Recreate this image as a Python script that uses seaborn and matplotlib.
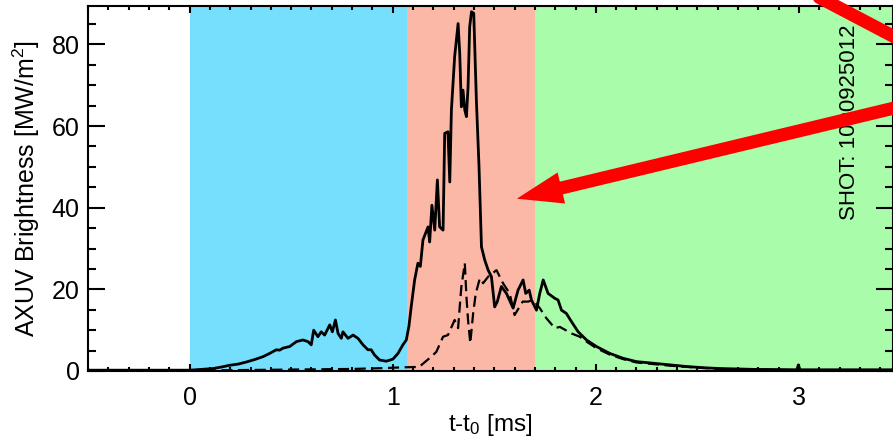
import matplotlib
matplotlib.use("Agg")
import matplotlib.pyplot as plt
import pandas as pd
import seaborn as sns
from matplotlib.ticker import MultipleLocator

# Datos (t-t0 en ms, brillo en MW/m2)
t_solid = [-0.50, -0.30, -0.10, 0.00, 0.06, 0.115, 0.16, 0.197, 0.24, 0.279, 0.32, 0.361,
           0.394, 0.427, 0.443, 0.460, 0.493, 0.526, 0.558, 0.583, 0.599, 0.611, 0.632,
           0.648, 0.665, 0.690, 0.703, 0.718, 0.731, 0.747, 0.755, 0.780, 0.805, 0.829,
           0.854, 0.878, 0.894, 0.911, 0.935, 0.968, 1.001, 1.026, 1.050, 1.067, 1.080,
           1.091, 1.108, 1.124, 1.136, 1.149, 1.174, 1.182, 1.193, 1.207, 1.220, 1.231,
           1.248, 1.256, 1.272, 1.281, 1.289, 1.305, 1.322, 1.330, 1.338, 1.346, 1.355,
           1.363, 1.371, 1.379, 1.388, 1.399, 1.412, 1.425, 1.437, 1.453, 1.470, 1.486,
           1.502, 1.515, 1.535, 1.560, 1.593, 1.617, 1.642, 1.655, 1.672, 1.683, 1.708,
           1.724, 1.741, 1.765, 1.798, 1.814, 1.831, 1.855, 1.880, 1.913, 1.954, 2.003,
           2.069, 2.135, 2.200, 2.282, 2.365, 2.447, 2.530, 2.611, 2.700, 2.775, 2.900,
           2.990, 2.997, 3.005, 3.100, 3.250, 3.460]
b_solid = [0.2, 0.2, 0.2, 0.2, 0.4, 0.6, 1.0, 1.4, 1.7, 2.2, 2.8, 3.5,
           4.3, 5.2, 5.1, 5.6, 6.0, 7.2, 7.6, 7.2, 6.4, 10.0, 8.4,
           9.6, 8.8, 11.3, 9.6, 12.5, 9.2, 8.0, 9.6, 8.0, 8.8, 8.0,
           6.4, 5.2, 5.2, 3.9, 2.7, 2.4, 2.9, 4.3, 6.4, 7.6, 11.0,
           15.7, 22.3, 26.4, 25.6, 32.1, 35.3, 31.6, 40.6, 34.5, 46.8, 35.3,
           34.5, 58.2, 58.6, 46.3, 63.9, 77.0, 85.1, 77.8, 64.7, 68.8, 63.9,
           62.3, 69.6, 84.3, 88.0, 87.6, 66.3, 50.0, 30.4, 27.2, 24.7, 23.1,
           15.7, 17.0, 20.7, 19.0, 15.4, 19.8, 22.3, 19.0, 19.8, 17.4, 14.9,
           19.0, 22.3, 19.0, 17.8, 17.4, 14.9, 14.1, 12.1, 9.6, 7.6, 6.0,
           4.3, 3.1, 2.3, 1.9, 1.5, 1.1, 0.8, 0.6, 0.5, 0.4, 0.35,
           0.3, 1.5, 0.3, 0.3, 0.3, 0.3]

t_dash = [-0.50, -0.20, 0.00, 0.20, 0.40, 0.60, 0.80, 0.95, 1.05, 1.13, 1.190, 1.215,
          1.248, 1.272, 1.305, 1.322, 1.330, 1.338, 1.355, 1.363, 1.371, 1.382, 1.396,
          1.409, 1.429, 1.445, 1.470, 1.511, 1.543, 1.576, 1.600, 1.640, 1.667, 1.691,
          1.724, 1.757, 1.798, 1.823, 1.880, 1.921, 1.960, 2.003, 2.069, 2.135, 2.200,
          2.282, 2.365, 2.447, 2.611, 2.775, 3.000, 3.460]
b_dash = [0.1, 0.1, 0.1, 0.2, 0.3, 0.4, 0.5, 0.7, 0.9, 1.0, 3.5, 4.7,
          8.4, 8.8, 12.5, 10.5, 15.7, 20.6, 26.4, 18.2, 12.5, 6.8, 14.1,
          19.0, 22.7, 21.5, 23.1, 24.7, 21.5, 19.0, 13.7, 17.0, 17.0, 17.4,
          15.4, 12.9, 10.5, 10.8, 9.2, 8.4, 7.0, 5.6, 4.0, 2.9, 2.1,
          1.7, 1.3, 1.0, 0.5, 0.3, 0.2, 0.2]

# Intervalos de fases (ms)
fases = [(0.0, 1.07, "#77dffe"), (1.07, 1.70, "#fbb8a6"), (1.70, 3.6, "#a9fca9")]

shot_label = "SHOT: 1000925012"

sns.set_theme(style="ticks")
plt.rcParams["font.family"] = ["Liberation Sans", "DejaVu Sans"]
plt.rcParams["mathtext.fontset"] = "custom"
plt.rcParams["mathtext.rm"] = "Liberation Sans"
plt.rcParams["mathtext.it"] = "Liberation Sans"
plt.rcParams["text.color"] = "black"
plt.rcParams["axes.labelcolor"] = "black"
plt.rcParams["xtick.color"] = "black"
plt.rcParams["ytick.color"] = "black"

solid = pd.DataFrame({"t": t_solid, "b": b_solid})
dash = pd.DataFrame({"t": t_dash, "b": b_dash})

fig = plt.figure(figsize=(8.93, 4.42), dpi=100)
ax = fig.add_axes([88 / 893, 71 / 442, 1 - 88 / 893, 365 / 442])

for x0, x1, c in fases:
    ax.axvspan(x0, x1, color=c, lw=0, zorder=0)

sns.lineplot(data=solid, x="t", y="b", ax=ax, color="black", lw=2.0,
             estimator=None, sort=False, zorder=3)
sns.lineplot(data=dash, x="t", y="b", ax=ax, color="black", lw=1.6,
             estimator=None, sort=False, dashes=False, zorder=3)
ax.lines[-1].set_dashes((5, 2.5))

ax.set_xlim(-0.5, 3.463)
ax.set_ylim(0, 89.4)
ax.xaxis.set_major_locator(MultipleLocator(1))
ax.xaxis.set_minor_locator(MultipleLocator(0.1))
ax.yaxis.set_major_locator(MultipleLocator(20))
ax.yaxis.set_minor_locator(MultipleLocator(5))
ax.tick_params(axis="both", which="both", direction="in", top=True, right=True,
               width=1.5, color="black", labelcolor="black", labelsize=18)
ax.tick_params(axis="x", which="major", length=5, pad=11)
ax.tick_params(axis="x", which="minor", length=3)
ax.tick_params(axis="y", which="major", length=12, pad=6)
ax.tick_params(axis="y", which="minor", length=6)
for s in ax.spines.values():
    s.set_linewidth(1.5)
    s.set_color("black")
    s.set_zorder(4)

ax.set_xlabel("t-t$_0$ [ms]", fontsize=17.5, labelpad=1)
ax.set_ylabel("AXUV Brightness [MW/m$^2$]", fontsize=18, labelpad=7)

ax.text(3.25, 61, shot_label, rotation=90, ha="center", va="center",
        fontsize=16, color="black", zorder=5)

# Flechas rojas
ax.annotate("", xy=(1.611, 42.2), xytext=(3.56, 65.5), xycoords="data",
            arrowprops=dict(width=9.4, headwidth=23, headlength=33,
                            facecolor="#ff0000", edgecolor="none", shrink=0),
            annotation_clip=False, zorder=6)
ax.annotate("", xy=(3.54, 80.0), xytext=(3.10, 91.5), xycoords="data",
            arrowprops=dict(arrowstyle="-", lw=9.4, color="#ff0000",
                            shrinkA=0, shrinkB=0),
            annotation_clip=False, zorder=6)

fig.savefig("out.png", dpi=100)
